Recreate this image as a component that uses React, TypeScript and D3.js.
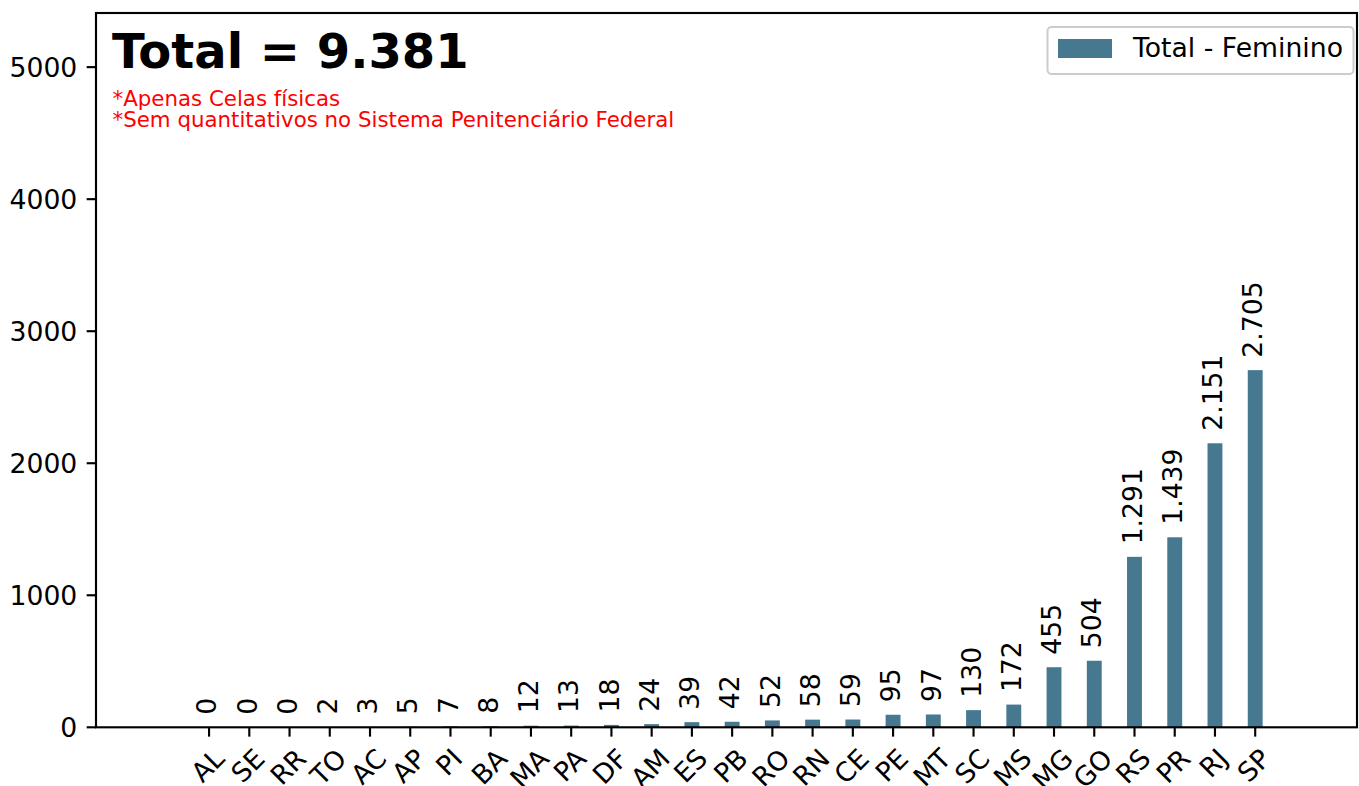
import React, { useMemo } from "react";
import * as d3 from "d3";

const categories = ["AL","SE","RR","TO","AC","AP","PI","BA","MA","PA","DF","AM","ES","PB","RO","RN","CE","PE","MT","SC","MS","MG","GO","RS","PR","RJ","SP"];
const values = [0,0,0,2,3,5,7,8,12,13,18,24,39,42,52,58,59,95,97,130,172,455,504,1291,1439,2151,2705];
const yTicks = [0, 1000, 2000, 3000, 4000, 5000];
const titleText = "Total = 9.381";
const notes = ["*Apenas Celas físicas", "*Sem quantitativos no Sistema Penitenciário Federal"];
const legendLabel = "Total - Feminino";

const W = 1359, H = 786;
const FONT = "DejaVu Sans";
const BAR = "#46788f";
const PT = 2.667;
const fs = 10 * PT;

function fmt(v: number) {
  return d3.format(",")(v).replace(/,/g, ".");
}

let ctx: CanvasRenderingContext2D | null = null;
function measure(text: string, size: number, weight = "normal") {
  if (!ctx) ctx = document.createElement("canvas").getContext("2d");
  if (!ctx) return text.length * size * 0.62;
  ctx.font = `${weight} ${size}px "${FONT}"`;
  return ctx.measureText(text).width;
}

export default function App() {
  const left = 96, right = 1357, top = 13, bottom = 727.3;
  const x = useMemo(() => d3.scaleLinear().domain([-2.81, 28.53]).range([left, right]), []);
  const y = useMemo(() => d3.scaleLinear().domain([0, 5410]).range([bottom, top]), []);
  const bw = x(0.37) - x(0);
  const tickLen = 3.5 * PT, pad = 3.5 * PT;
  const lineH = 0.968 * fs;
  const sw = 0.8 * PT;

  return (
    <svg width={W} height={H} style={{ position: "absolute", left: 0, top: 0, background: "#fff" }} fontFamily={FONT}>
      <rect x={0} y={0} width={W} height={H} fill="#fff" />
      {values.map((v, i) => (
        <rect key={"b" + i} x={x(i) - bw / 2} y={y(v)} width={bw} height={y(0) - y(v)} fill={BAR} />
      ))}
      {values.map((v, i) => (
        <text key={"v" + i} transform={`translate(${x(i)},${y(v) - 12.5}) rotate(-90)`} x={0} y={0.27 * fs} fontSize={fs} textAnchor="start" fill="#000">
          {fmt(v)}
        </text>
      ))}
      <rect x={left} y={top} width={right - left} height={bottom - top} fill="none" stroke="#000" strokeWidth={sw} />
      {yTicks.map((t) => (
        <g key={"y" + t}>
          <line x1={left - tickLen} x2={left} y1={y(t)} y2={y(t)} stroke="#000" strokeWidth={sw} />
          <text x={left - tickLen - pad} y={y(t) + 0.365 * fs} fontSize={fs} textAnchor="end">{t}</text>
        </g>
      ))}
      {categories.map((c, i) => {
        const w = measure(c, fs);
        const s = (w + lineH) / Math.SQRT2;
        const cx = x(i);
        const cy = bottom + tickLen + pad + s / 2;
        return (
          <g key={"x" + c}>
            <line x1={cx} x2={cx} y1={bottom} y2={bottom + tickLen} stroke="#000" strokeWidth={sw} />
            <text transform={`translate(${cx},${cy}) rotate(-45)`} x={0} y={0.276 * fs} fontSize={fs} textAnchor="middle">{c}</text>
          </g>
        );
      })}
      <text x={112} y={68} fontSize={18 * PT} fontWeight="bold">{titleText}</text>
      {notes.map((n, i) => (
        <text key={"n" + i} x={112.5} y={105.7 + i * 21.7} fontSize={8 * PT} fill="#ff0000">{n}</text>
      ))}
      <rect x={1047.5} y={27} width={306} height={47} rx={4} ry={4} fill="#fff" fillOpacity={0.8} stroke="#cccccc" strokeWidth={2} />
      <rect x={1058} y={39} width={54} height={19} fill={BAR} />
      <text x={1133} y={57} fontSize={fs}>{legendLabel}</text>
    </svg>
  );
}
